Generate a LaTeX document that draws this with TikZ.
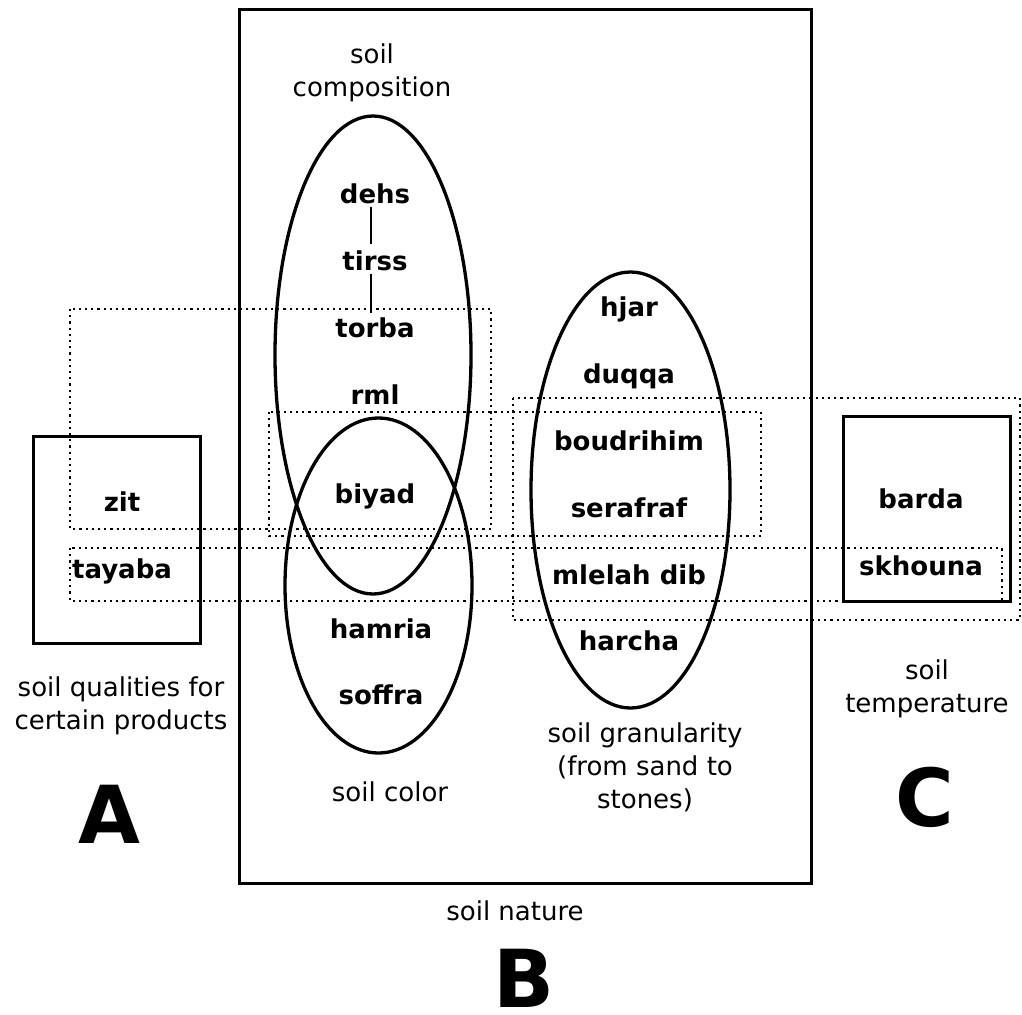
\documentclass[tikz,border=0pt]{standalone}
\usepackage{fontspec}
\setmainfont{DejaVu Sans}
\usetikzlibrary{shapes.geometric}
\begin{document}
\begin{tikzpicture}[x=1pt,y=-1pt,
  word/.style={font=\fontsize{26}{33}\selectfont\bfseries, inner sep=0pt, anchor=base},
  lbl/.style={font=\fontsize{26}{33}\selectfont, inner sep=0pt, anchor=base, align=center},
  big/.style={font=\fontsize{80}{90}\selectfont\bfseries, inner sep=0pt, anchor=base},
  box/.style={draw, line width=3pt},
  dotbox/.style={draw, line width=2.4pt, dash pattern=on 2.2pt off 4pt},
  oval/.style={draw, ellipse, line width=3.3pt, inner sep=0pt},
  link/.style={line width=2.4pt}]
\useasboundingbox (0,0) rectangle (1022,1014);
% solid boxes
\node[box, minimum width=572pt, minimum height=873pt, inner sep=0pt] (Bbox) at (525,446.5) {};
\node[box, minimum width=167pt, minimum height=207pt, inner sep=0pt] (Abox) at (116.5,539.5) {};
\node[box, minimum width=167pt, minimum height=185pt, inner sep=0pt] (Cbox) at (926.5,508.5) {};
% ellipses
\node[oval, minimum width=196pt, minimum height=478pt] (comp) at (373,355) {};
\node[oval, minimum width=187pt, minimum height=335pt] (color) at (378.5,585.5) {};
\node[oval, minimum width=199pt, minimum height=436pt] (gran) at (630.5,490) {};
% dotted boxes
\draw[dotbox] (70,309) rectangle (491,529);
\draw[dotbox] (269,412) rectangle (761,536);
\draw[dotbox] (70,548) rectangle (1002,601);
\draw[dotbox] (513,398) rectangle (1020,620);
% words
\node[word] (dehs) at (375,203) {dehs};
\node[word] (tirss) at (375,270) {tirss};
\node[word] (torba) at (375,337) {torba};
\node[word] (rml) at (375,404) {rml};
\node[word] (biyad) at (375,503) {biyad};
\node[word] (hamria) at (381,638) {hamria};
\node[word] (soffra) at (381,704) {soffra};
\node[word] (hjar) at (629,316) {hjar};
\node[word] (duqqa) at (629,383) {duqqa};
\node[word] (boudrihim) at (629,450) {boudrihim};
\node[word] (serafraf) at (629,517) {serafraf};
\node[word] (mlelah) at (629,584) {mlelah dib};
\node[word] (harcha) at (629,650) {harcha};
\node[word] (zit) at (122,511) {zit};
\node[word] (tayaba) at (122,578) {tayaba};
\node[word] (barda) at (921,508) {barda};
\node[word] (skhouna) at (921,575) {skhouna};
% connectors
\draw[link] ([xshift=-4pt,yshift=-3pt]dehs.south) -- ([xshift=-4pt,yshift=6pt]tirss.north);
\draw[link] ([xshift=-4pt,yshift=-3pt]tirss.south) -- ([xshift=-4pt,yshift=4pt]torba.north);
% labels
\node[lbl] (lcomp) at (372,97) {soil\\composition};
\node[lbl] (lcolor) at (390,801) {soil color};
\node[lbl] (lgran) at (645,808) {soil granularity\\(from sand to\\stones)};
\node[lbl] (lqual) at (121,729) {soil qualities for\\certain products};
\node[lbl] (ltemp) at (927,712) {soil\\temperature};
\node[lbl] (lnat) at (515,920) {soil nature};
\node[big] (A) at (109,843) {A};
\node[big] (B) at (524,1007) {B};
\node[big] (C) at (925,826) {C};
\end{tikzpicture}
\end{document}
